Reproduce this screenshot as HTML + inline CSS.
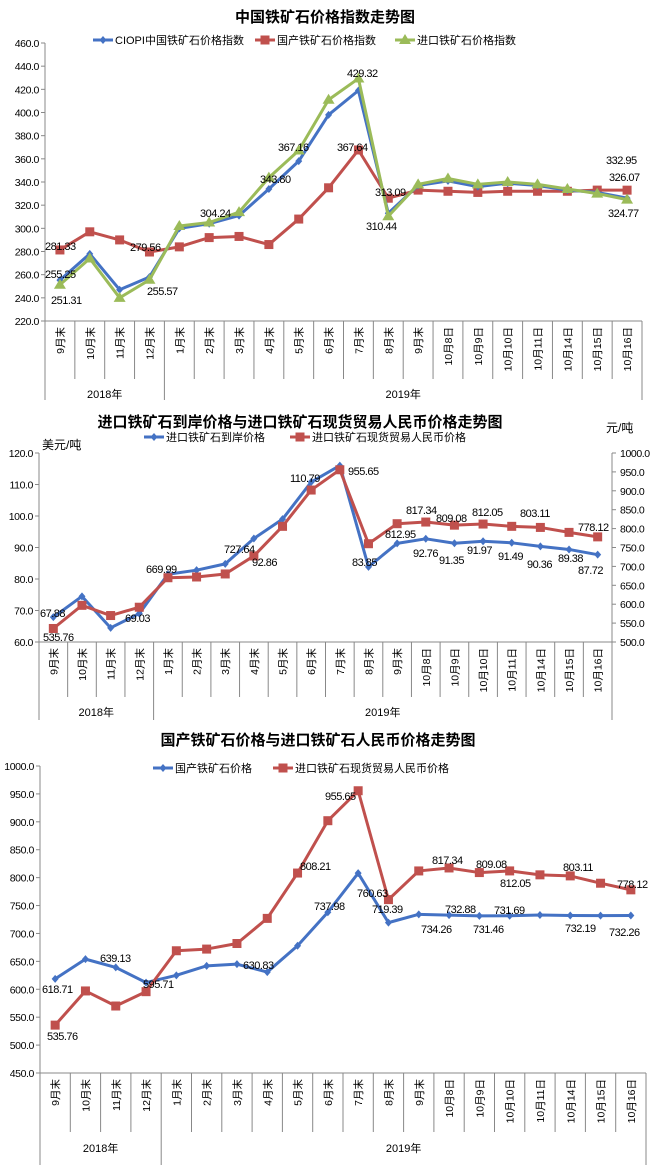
<!DOCTYPE html>
<html><head><meta charset="utf-8">
<style>
html,body{margin:0;padding:0;background:#fff;}
svg{display:block;}
text{font-family:"Liberation Sans","Noto Sans CJK SC",sans-serif;fill:#000;}
</style></head>
<body>
<svg id="s" width="650" height="1165" viewBox="0 0 650 1165" xmlns="http://www.w3.org/2000/svg">
<text x="325" y="22" font-size="15" font-weight="bold" text-anchor="middle">中国铁矿石价格指数走势图</text>
<text x="300" y="427" font-size="15" font-weight="bold" text-anchor="middle">进口铁矿石到岸价格与进口铁矿石现货贸易人民币价格走势图</text>
<text x="318" y="745" font-size="15" font-weight="bold" text-anchor="middle">国产铁矿石价格与进口铁矿石人民币价格走势图</text>
<text x="42" y="449" font-size="12">美元/吨</text>
<text x="606" y="432" font-size="12">元/吨</text>
</svg>
<script>
var S=document.getElementById('s'),NS='http://www.w3.org/2000/svg';
function el(t,a,txt){var e=document.createElementNS(NS,t);for(var k in a)e.setAttribute(k,a[k]);if(txt!=null)e.textContent=txt;S.appendChild(e);return e;}
var cats=['9月末','10月末','11月末','12月末','1月末','2月末','3月末','4月末','5月末','6月末','7月末','8月末','9月末','10月8日','10月9日','10月10日','10月11日','10月14日','10月15日','10月16日'];
var BL='#4472c4',RD='#c0504d',GR='#9bbb59';
function marker(kind,x,y,c){
 if(kind=='d')el('polygon',{points:(x)+','+(y-4)+' '+(x+3.5)+','+y+' '+x+','+(y+4)+' '+(x-3.5)+','+y,fill:c});
 else if(kind=='s')el('rect',{x:x-4.5,y:y-4.5,width:9,height:9,fill:c});
 else el('polygon',{points:x+','+(y-6)+' '+(x+6)+','+(y+4)+' '+(x-6)+','+(y+4),fill:c});
}
function chart(o){
 var L=o.L,R=o.R,T=o.T,B=o.B,w=(R-L)/20;
 for(var i=0;i<o.ticks.length;i++){var v=o.ticks[i],y=B-(v-o.min)/(o.max-o.min)*(B-T);
  el('line',{x1:L-4,y1:y,x2:L,y2:y,stroke:'#888'});
  el('text',{x:L-6,y:y+4,'font-size':10.5,'letter-spacing':'-0.4','text-anchor':'end'},v.toFixed(1));}
 el('line',{x1:L,y1:T,x2:L,y2:o.yr2,stroke:'#888'});
 if(o.rt){for(var i=0;i<o.rt.length;i++){var v=o.rt[i],y=B-(v-o.rmin)/(o.rmax-o.rmin)*(B-T);
  el('line',{x1:R,y1:y,x2:R+4,y2:y,stroke:'#888'});
  el('text',{x:R+8,y:y+4,'font-size':10.5,'letter-spacing':'-0.4'},v.toFixed(1));}
  el('line',{x1:R,y1:T,x2:R,y2:B,stroke:'#888'});}
 el('line',{x1:L,y1:B,x2:R,y2:B,stroke:'#888'});
 for(var i=0;i<=20;i++){var x=L+i*w;el('line',{x1:x,y1:B,x2:x,y2:(i==0||i==4||i==20)?o.yr2:o.yr1,stroke:'#888'});}
 for(var i=0;i<20;i++){var x=L+(i+0.5)*w;
  el('text',{x:0,y:0,'font-size':10.5,'text-anchor':'end',transform:'translate('+(x+4)+','+(B+6)+') rotate(-90)'},cats[i]);}
 el('text',{x:L+2*w,y:o.yl,'font-size':11,'text-anchor':'middle'},'2018年');
 el('text',{x:L+12*w,y:o.yl,'font-size':11,'text-anchor':'middle'},'2019年');
 o.series.forEach(function(s){
  var pts=s.d.map(function(v,i){var mn=s.r?o.rmin:o.min,mx=s.r?o.rmax:o.max;return [L+(i+0.5)*w,B-(v-mn)/(mx-mn)*(B-T)];});
  el('polyline',{points:pts.map(function(p){return p.join(',')}).join(' '),fill:'none',stroke:s.c,'stroke-width':3,'stroke-linejoin':'round'});
  pts.forEach(function(p){marker(s.m,p[0],p[1],s.c);});
 });
 o.leg.forEach(function(g){el('line',{x1:g[0],y1:o.ly,x2:g[0]+20,y2:o.ly,stroke:g[2],'stroke-width':3});marker(g[3],g[0]+10,o.ly,g[2]);
  el('text',{x:g[0]+22,y:o.ly+4,'font-size':11},g[1]);});
 o.lab.forEach(function(l){el('text',{x:l[1],y:l[2],'font-size':11,'letter-spacing':'-0.5'},l[0]);});
}
chart({L:45,R:642,T:43,B:321,min:220,max:460,ticks:[220,240,260,280,300,320,340,360,380,400,420,440,460],yr1:379,yr2:400,yl:398,ly:40,
 series:[
 {c:RD,m:'s',d:[281.33,297,290,279.56,284,292,293,286,308,335,367.64,326,333,332,331,332,332,332,333,332.95]},
 {c:BL,m:'d',d:[255.25,278,247,258,300,304,311,334,358,398,419,313,337,341,336,339,337,333,331,326.07]},
 {c:GR,m:'t',d:[251.31,274,240,255.57,302,305,314,343.8,367.16,411,429.32,310.44,338,343,338,340,338,334,330,324.77]}],
 leg:[[93,'CIOPI中国铁矿石价格指数',BL,'d'],[255,'国产铁矿石价格指数',RD,'s'],[395,'进口铁矿石价格指数',GR,'t']],
 lab:[['281.33',45,250],['255.25',45,278],['251.31',51,304],['279.56',130,251],['255.57',147,295],['304.24',200,217],['343.80',260,183],['367.16',278,151],['367.64',337,151],['429.32',347,77],['313.09',375,196],['310.44',366,230],['332.95',606,164],['326.07',609,181],['324.77',608,217]]});
chart({L:39,R:612,T:453,B:642,min:60,max:120,ticks:[60,70,80,90,100,110,120],rmin:500,rmax:1000,rt:[500,550,600,650,700,750,800,850,900,950,1000],yr1:697,yr2:720,yl:716,ly:437,
 series:[
 {c:BL,m:'d',d:[67.88,74.5,64.5,69.03,81.5,82.8,84.8,92.86,99,110.79,116,83.85,91.3,92.76,91.35,91.97,91.49,90.36,89.38,87.72]},
 {c:RD,m:'s',r:1,d:[535.76,597,570,592,669.99,672,680,727.64,806,902,955.65,760,812.95,817.34,809.08,812.05,806,803.11,790,778.12]}],
 leg:[[144,'进口铁矿石到岸价格',BL,'d'],[290,'进口铁矿石现货贸易人民币价格',RD,'s']],
 lab:[['67.88',40,617],['535.76',43,641],['69.03',125,622],['669.99',146,573],['727.64',224,553],['92.86',252,566],['110.79',290,482],['955.65',348,475],['83.85',352,566],['812.95',385,538],['817.34',406,514],['809.08',436,522],['812.05',472,516],['803.11',520,517],['778.12',578,531],['92.76',413,557],['91.35',439,564],['91.97',467,554],['91.49',498,560],['90.36',527,568],['89.38',558,562],['87.72',578,574]]});
chart({L:40,R:646,T:766,B:1073,min:450,max:1000,ticks:[450,500,550,600,650,700,750,800,850,900,950,1000],yr1:1132,yr2:1165,yl:1152,ly:768,
 series:[
 {c:BL,m:'d',d:[618.71,654,639.13,612,625,642,645,630.83,678,737.98,808,719.39,734.26,732.88,731.46,731.69,733,732.19,732,732.26]},
 {c:RD,m:'s',d:[535.76,597,570,595.71,669,672,682,727,808.21,902,955.65,760.63,812,817.34,809.08,812.05,805,803.11,790,778.12]}],
 leg:[[153,'国产铁矿石价格',BL,'d'],[273,'进口铁矿石现货贸易人民币价格',RD,'s']],
 lab:[['618.71',42,993],['639.13',100,962],['595.71',143,988],['535.76',47,1040],['630.83',243,969],['808.21',300,870],['737.98',314,910],['955.65',325,800],['760.63',357,897],['719.39',372,913],['817.34',432,864],['809.08',476,868],['812.05',500,887],['803.11',563,871],['778.12',617,888],['732.88',445,913],['731.69',494,914],['734.26',421,933],['731.46',473,933],['732.19',565,932],['732.26',609,936]]});
</script>
</body></html>
